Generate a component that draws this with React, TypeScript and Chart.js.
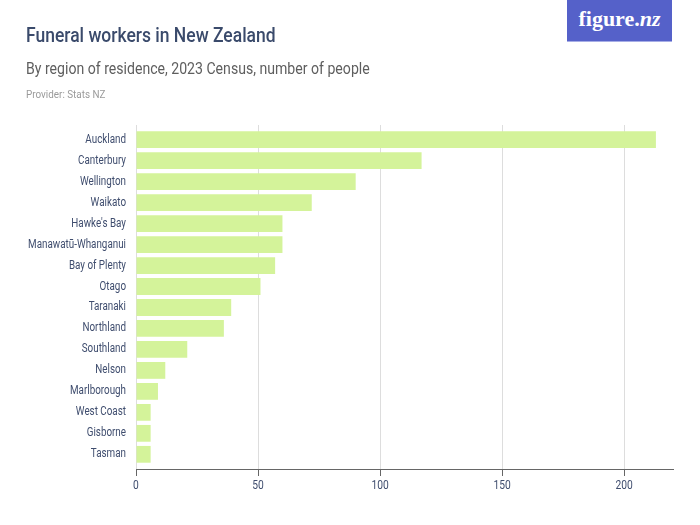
import React, { useEffect, useRef } from "react";
import { Chart, registerables } from "chart.js";

Chart.register(...registerables);

const regions: string[] = [
  "Auckland",
  "Canterbury",
  "Wellington",
  "Waikato",
  "Hawke's Bay",
  "Manawatū-Whanganui",
  "Bay of Plenty",
  "Otago",
  "Taranaki",
  "Northland",
  "Southland",
  "Nelson",
  "Marlborough",
  "West Coast",
  "Gisborne",
  "Tasman",
];

const workers: number[] = [213, 117, 90, 72, 60, 60, 57, 51, 39, 36, 21, 12, 9, 6, 6, 6];

const xTicks: number[] = [0, 50, 100, 150, 200];

const FONT = "Roboto, sans-serif";
const LABEL_COLOR = "#3f4d6e";
const SQUEEZE = 0.82;

const labelPlugin = {
  id: "condensedLabels",
  afterDraw(chart: any) {
    const ctx = chart.ctx as CanvasRenderingContext2D;
    const y = chart.scales.y;
    const x = chart.scales.x;
    ctx.save();
    ctx.fillStyle = LABEL_COLOR;
    ctx.font = `12px ${FONT}`;
    ctx.textBaseline = "middle";
    ctx.textAlign = "right";
    regions.forEach((name, i) => {
      const py = y.getPixelForValue(i);
      ctx.save();
      ctx.translate(y.right - 10, py);
      ctx.scale(SQUEEZE, 1);
      ctx.fillText(name, 0, 0);
      ctx.restore();
    });
    ctx.textAlign = "center";
    ctx.textBaseline = "middle";
    ctx.font = `12.5px ${FONT}`;
    xTicks.forEach((v) => {
      const px = x.getPixelForValue(v);
      ctx.save();
      ctx.translate(px, x.top + 17);
      ctx.scale(SQUEEZE, 1);
      ctx.fillText(String(v), 0, 0);
      ctx.restore();
    });
    ctx.restore();
  },
};

function Fit({ target, style, children }: { target: number; style: React.CSSProperties; children: React.ReactNode }) {
  const ref = useRef<HTMLSpanElement | null>(null);
  useEffect(() => {
    const el = ref.current;
    if (!el) return;
    const w = el.offsetWidth;
    if (w > 0) el.style.transform = `scaleX(${target / w})`;
  }, [target]);
  return (
    <span
      ref={ref}
      style={{ position: "absolute", display: "inline-block", whiteSpace: "nowrap", transformOrigin: "0 0", ...style }}
    >
      {children}
    </span>
  );
}

export default function App() {
  const ref = useRef<HTMLCanvasElement | null>(null);

  useEffect(() => {
    if (!ref.current) return;
    const chart = new Chart(ref.current, {
      type: "bar",
      data: {
        datasets: [
          {
            data: workers.map((v, i) => ({ x: v, y: i })),
            backgroundColor: "#d4f39a",
            borderWidth: 0,
            barPercentage: 0.8,
            categoryPercentage: 1,
          },
        ],
      },
      options: {
        indexAxis: "y",
        animation: false,
        responsive: false,
        maintainAspectRatio: false,
        layout: { padding: { top: 125, right: 27, left: 0, bottom: 0 } },
        plugins: { legend: { display: false }, tooltip: { enabled: false } },
        scales: {
          x: {
            type: "linear",
            min: 0,
            max: 220,
            afterFit: (s: any) => {
              s.height = 56;
            },
            afterBuildTicks: (s: any) => {
              s.ticks = xTicks.map((v) => ({ value: v }));
            },
            ticks: {
              includeBounds: false,
              display: false,
            },
            grid: {
              color: "#dddddd",
              lineWidth: 1,
              tickColor: "#666666",
              tickLength: 7,
              drawTicks: true,
            },
            border: { display: true, color: "#666666", width: 1 },
          },
          y: {
            type: "linear",
            min: -0.7,
            max: 15.7,
            reverse: true,
            offset: false,
            afterFit: (s: any) => {
              s.width = 136;
            },
            afterBuildTicks: (s: any) => {
              s.ticks = regions.map((_, i) => ({ value: i }));
            },
            ticks: {
              includeBounds: false,
              display: false,
            },
            grid: { display: false, drawTicks: false, offset: false },
            border: { display: false },
          },
        },
      },
      plugins: [labelPlugin],
    });
    return () => chart.destroy();
  }, []);

  return (
    <div style={{ position: "fixed", left: 0, top: 0, width: 700, height: 525, background: "#fff", fontFamily: FONT }}>
      <canvas ref={ref} width={700} height={525} style={{ position: "absolute", left: 0, top: 0, width: 700, height: 525 }} />
      <Fit target={250} style={{ left: 26, top: 23, fontSize: 20.5, fontWeight: 500, color: "#3a4a6b", lineHeight: "24px" }}>
        Funeral workers in New Zealand
      </Fit>
      <Fit target={344} style={{ left: 26, top: 58, fontSize: 17, color: "#5e5e5e", lineHeight: "20px" }}>
        By region of residence, 2023 Census, number of people
      </Fit>
      <Fit target={79} style={{ left: 26, top: 89, fontSize: 10, color: "#9a9a9a", lineHeight: "12px" }}>
        Provider: Stats NZ
      </Fit>
      <div
        style={{
          position: "absolute",
          left: 567,
          top: 0,
          width: 105,
          height: 42,
          background: "#5561c9",
          borderBottom: "1px solid #a6ade6",
          boxSizing: "border-box",
          color: "#fff",
          fontFamily: '"Liberation Serif", "DejaVu Serif", serif',
          fontSize: 22,
          fontWeight: 700,
          textAlign: "center",
          lineHeight: "38px",
        }}
      >
        figure.<span style={{ fontStyle: "italic" }}>nz</span>
      </div>
    </div>
  );
}
